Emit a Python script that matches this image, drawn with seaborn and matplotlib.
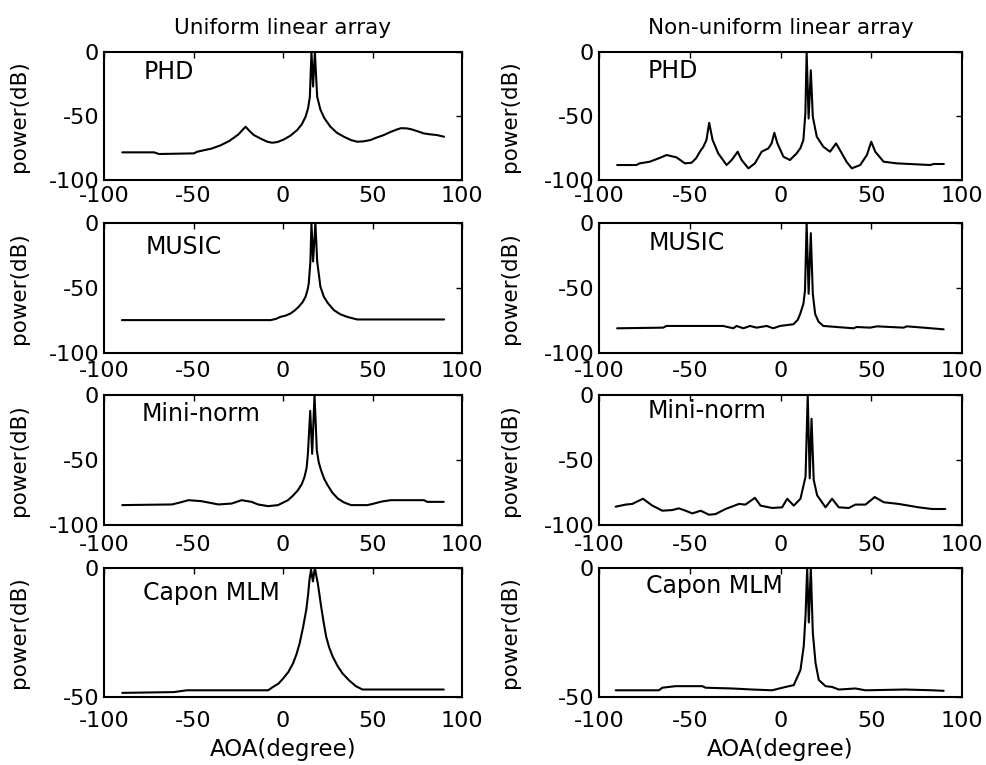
import numpy as np
import pandas as pd
import matplotlib
matplotlib.use("Agg")
import matplotlib.pyplot as plt
import seaborn as sns

# ---------------- data ----------------
col_titles = ["Uniform linear array", "Non-uniform linear array"]
method_names = ["PHD", "MUSIC", "Mini-norm", "Capon MLM"]
x_ticks = [-100, -50, 0, 50, 100]

ula_phd_x = [-89.8, -72, -69.3, -49.8, -47.9, -45, -40, -35, -30, -25, -22, -20.9, -18.5, -16.3, -12, -8.8,
             -6, -3, 0.5, 4, 7.9, 10.5, 12.6, 14, 15, 15.9, 16.8, 17.8, 19.1, 20.9, 23, 26.5, 30, 34, 38,
             41.4, 45, 48.8, 52, 56.3, 60, 63.7, 66, 69.3, 72, 74.9, 78.6, 82, 86, 90]
ula_phd_y = [-78.4, -78.4, -79.7, -79.2, -77.9, -77, -75.5, -73, -69.5, -64.5, -60, -58.4, -62, -64.9, -68,
             -70.1, -70.9, -70.3, -68.3, -65.5, -61, -56.5, -50.6, -44, -35, 0, -27, 0, -35, -45, -51.5,
             -58.4, -63, -66.2, -68.8, -70.1, -69.8, -68.8, -67, -64.9, -62.5, -60.5, -59.5, -59.7, -60.5,
             -61.8, -63.6, -64.3, -64.9, -66.2]

nla_phd_x = [-90, -79.4, -77.6, -72, -67, -62.8, -57.3, -52.7, -49, -46.5, -44.4, -42.5, -40.8, -39.3,
             -37.4, -34.3, -29.7, -26.9, -23.6, -21.4, -17.7, -14.1, -10.4, -6.7, -4.9, -3.4, -1.7, 1.6,
             5.2, 8.9, 11, 12.6, 13.7, 14.4, 15.5, 16.7, 17.8, 20, 23.6, 27.3, 30.6, 33.8, 36.5, 39.3, 43.9,
             47.6, 50, 52.2, 56.8, 64.1, 82.5, 84.4, 90]
nla_phd_y = [-88.3, -88.3, -87, -85.7, -83, -80.5, -82.3, -87, -86.5, -83, -77.9, -74, -68.8, -55.3,
             -68.8, -79.2, -88.3, -84.4, -77.9, -84.4, -90.9, -87, -77.9, -75.3, -71.4, -63.1, -71.4, -81.8,
             -84.4, -79.2, -75, -68.8, -48, 0, -52, -14.3, -50.6, -66.2, -74, -77.9, -71.4, -79.2, -86,
             -90.9, -88.3, -80.5, -70.1, -77.9, -85.7, -87, -88.3, -87.5, -87.5]

ula_music_x = [-90, -7, -4, -1.4, 1.5, 4.2, 6.5, 8.8, 11, 12.6, 13.8, 14.4, 15.3, 15.9, 16.8, 18.1, 19.1,
               20.9, 22.8, 25, 28.4, 32, 35.8, 41.4, 90]
ula_music_y = [-74.7, -74.7, -73.8, -72.2, -71.2, -69.6, -67.3, -64.4, -60.8, -56.7, -51, -46.4, -29.6, 0,
               -29.6, 0, -29.6, -49, -56.7, -61.5, -67, -70.2, -72.2, -74.2, -74.2]

nla_music_x = [-90, -64.7, -62.8, -31.6, -26, -24.2, -20.5, -16.8, -13.2, -7.6, -4, -0.3, 7.1, 9.5, 10.8,
               12.6, 13.5, 14.4, 15.5, 16.7, 17.8, 19.1, 21, 23.6, 40.2, 42, 49.4, 53.1, 67.8, 69.6, 78.8,
               89.9]
nla_music_y = [-81, -80.5, -79.2, -79.2, -81, -79.2, -81, -79.2, -80.5, -79.2, -81, -79.2, -77.9, -74.5,
               -70.1, -62.3, -51.9, 0, -54.5, -7.8, -54.5, -70.1, -76, -79.2, -81, -80, -80.5, -79.5, -80.5,
               -79.5, -80.5, -81.8]

ula_mn_x = [-89.8, -62, -57, -52.8, -45.4, -36.1, -28.7, -23.1, -17.6, -13.9, -8.3, -2.8, 2.8, 5.5, 8.3,
            10.5, 12, 13.2, 13.9, 15.2, 16.3, 17.6, 18.9, 20, 21.3, 23, 25, 27.5, 30.6, 34, 38, 47.2, 50.9,
            55, 60.2, 78.7, 80.6, 89.8]
ula_mn_y = [-84.7, -84.2, -82.5, -80.9, -81.7, -84.2, -83.5, -80.9, -82.2, -84.2, -85.5, -84.7, -80.9,
            -77.5, -73.3, -68.5, -63.1, -56, -45.3, -12.2, -45.3, 0, -42.7, -52, -58, -64.5, -69.5, -75,
            -79.6, -82.6, -84.7, -84.7, -83.5, -82, -80.9, -80.9, -82.2, -82.2]

nla_mn_x = [-90.8, -85.3, -81.7, -75.8, -70.6, -65.1, -59.6, -56, -52.3, -48.6, -44, -39.4, -35.8, -30.3,
            -22.9, -19.3, -14.1, -11, -4.6, 0.9, 3.7, 7.3, 11, 13.8, 15, 16.1, 17.1, 18.3, 20.2, 24.8, 28.4,
            32.1, 37.6, 41.3, 46.8, 51.9, 56.9, 65.1, 76.1, 83.5, 90.8]
nla_mn_y = [-85.9, -84.3, -83.8, -79.8, -85.1, -89, -88.5, -87.2, -89, -91.1, -89, -92.1, -91.6, -87.7,
            -83.8, -84.3, -79.1, -85.1, -86.9, -86.4, -79.8, -85.1, -79.8, -62.8, 0, -64.1, -18.3, -65.4,
            -77.2, -86.4, -79.8, -86.4, -86.9, -84.3, -84.3, -78.5, -82.5, -83.8, -86.4, -87.7, -87.7]

ula_capon_x = [-89.8, -61.1, -53.7, -8.3, -5.6, -2.5, 0, 3, 5.6, 7.5, 9.3, 11.2, 13, 14, 14.8, 15.7, 16.7,
               17.8, 19.4, 20.3, 21.3, 22.7, 24.1, 25.8, 27.8, 30.5, 33.3, 37, 40.7, 44.4, 89.8]
ula_capon_y = [-48.4, -48.1, -47.4, -47.4, -46.1, -44.8, -42.9, -40.3, -37, -33.5, -29.2, -23, -16.2,
               -10.5, -4.5, -0.6, -5.2, 0, -5.8, -10, -14.9, -21, -26.6, -30.8, -34.4, -38, -40.9, -43.6,
               -45.8, -47.1, -47.1]

nla_capon_x = [-90.8, -67, -65.1, -57.8, -43.1, -41.3, -26.6, -15.6, -4.6, 2.8, 7.3, 11, 12.8, 13.8, 14.7,
               15.6, 16.7, 17.8, 19.3, 21.1, 24.8, 28.4, 32.1, 41.3, 46.8, 68.8, 83.5, 89.9]
nla_capon_y = [-47.4, -47.4, -46.4, -45.8, -45.8, -46.4, -46.7, -47.1, -47.4, -46.1, -45.4, -39.5, -30.3,
               -18.4, 0, -21.1, 0, -25, -36.8, -43.4, -45.8, -46.1, -47.1, -46.7, -47.4, -47.1, -47.4, -47.6]

# ---------------- layout ----------------
sns.set_theme(style="white")
plt.rcParams['font.family'] = ['DejaVu Sans']
plt.rcParams['font.size'] = 15
plt.rcParams['axes.unicode_minus'] = False

fig = plt.figure(figsize=(9.86, 7.65), dpi=100)

col_left = [104 / 986, 599 / 986]
col_width = [358 / 986, 363 / 986]
row_top = [52, 223, 395, 568]
row_bot = [180, 353, 525, 697]
xtick_pad = [4, 6, 7.5, 10]

panels = [
    [(ula_phd_x, ula_phd_y), (nla_phd_x, nla_phd_y)],
    [(ula_music_x, ula_music_y), (nla_music_x, nla_music_y)],
    [(ula_mn_x, ula_mn_y), (nla_mn_x, nla_mn_y)],
    [(ula_capon_x, ula_capon_y), (nla_capon_x, nla_capon_y)],
]
label_pos = [
    [(0.11, 0.84), (0.135, 0.85)],
    [(0.115, 0.815), (0.138, 0.85)],
    [(0.105, 0.855), (0.135, 0.88)],
    [(0.11, 0.81), (0.13, 0.86)],
]
ylab_x = [-0.21, -0.218]

for r in range(4):
    for c in range(2):
        bottom = 1 - row_bot[r] / 765
        height = (row_bot[r] - row_top[r]) / 765
        ax = fig.add_axes([col_left[c], bottom, col_width[c], height])
        xs, ys = panels[r][c]
        df = pd.DataFrame({"AOA": xs, "power": ys})
        sns.lineplot(data=df, x="AOA", y="power", ax=ax, color="black", linewidth=1.5,
                     estimator=None, sort=False)
        ax.set_xlim(-100, 100)
        ax.set_xticks(x_ticks)
        if r < 3:
            ax.set_ylim(-100, 0)
            ax.set_yticks([-100, -50, 0])
        else:
            ax.set_ylim(-50, 0)
            ax.set_yticks([-50, 0])
        ax.tick_params(direction="in", length=4, width=1, top=True, right=True,
                       labelsize=16, colors="black")
        ax.tick_params(axis="y", pad=3.5)
        ax.tick_params(axis="x", pad=xtick_pad[r])
        for sp in ax.spines.values():
            sp.set_color("black")
            sp.set_linewidth(1.5)
        ax.set_ylabel("power(dB)", fontsize=15.5, color="black")
        ax.yaxis.set_label_coords(ylab_x[c], 0.5)
        if r == 3:
            ax.set_xlabel("AOA(degree)", fontsize=16.5, color="black", labelpad=5)
        else:
            ax.set_xlabel("")
        if r == 0:
            ax.set_title(col_titles[c], fontsize=15.5, pad=13, color="black")
        lx, ly = label_pos[r][c]
        ax.text(lx, ly, method_names[r], transform=ax.transAxes, fontsize=17,
                ha="left", va="center", color="black")

fig.savefig("out.png", dpi=100)
